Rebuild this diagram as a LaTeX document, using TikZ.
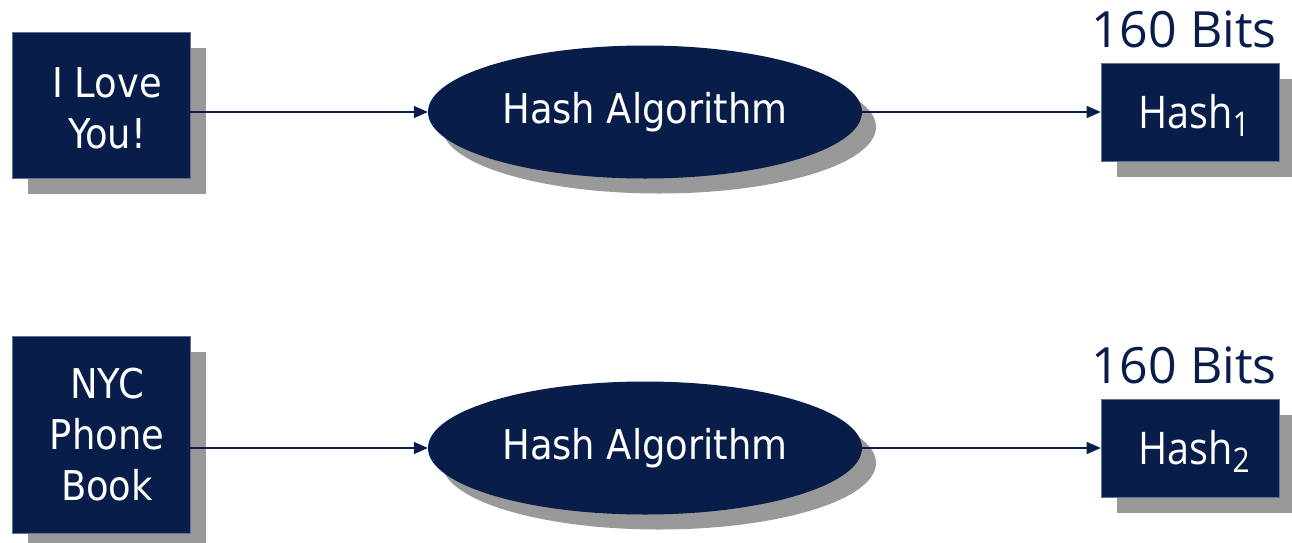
\documentclass[tikz,border=0pt]{standalone}
\usepackage{fontspec}
\setmainfont{DejaVu Sans Condensed}
\newfontfamily\segoe{Open Sans}
\newfontfamily\segoenarrow[FakeStretch=0.88]{Open Sans}
\usetikzlibrary{shapes.geometric,shadows,arrows.meta}
\definecolor{navy}{RGB}{8,29,74}
\definecolor{shade}{RGB}{153,153,153}
\definecolor{rim}{RGB}{96,112,150}
% move contents by a given amount while keeping their box size
\newcommand\nudge[3]{\hspace*{#1}\raisebox{#2}[\height][\depth]{#3}}
% a message set on centred lines
\newcommand\msglines[1]{\begin{tabular}{@{}c@{}}#1\end{tabular}}
% digest label with its large, low index
\newcommand\digestname[1]{Hash\raisebox{-8pt}{\fontsize{34}{40}\selectfont #1}}
\tikzset{
  shadowed/.style={drop shadow={shadow xshift=16pt,shadow yshift=-16pt,fill=shade,opacity=1}},
  msgbox/.style={rectangle,fill=navy,draw=rim,line width=0.6pt,shadowed,
    minimum width=178pt,text=white,inner sep=0pt,
    font=\fontsize{41}{51}\selectfont},
  algo/.style={ellipse,fill=navy,draw=none,minimum width=434pt,minimum height=133pt,
    drop shadow={shadow xshift=14pt,shadow yshift=-15pt,fill=shade,opacity=1},
    text=white,inner sep=0pt,font=\fontsize{41}{51}\selectfont},
  digest/.style={rectangle,fill=navy,draw=rim,line width=0.6pt,shadowed,
    minimum width=178pt,minimum height=98pt,text=white,inner sep=0pt,
    font=\segoenarrow\fontsize{45}{52}\selectfont},
  bits/.style={text=navy,inner sep=0pt,anchor=base,font=\segoe\fontsize{50}{60}\selectfont},
  conn/.style={draw=navy,line width=1.4pt,-{Triangle[length=14pt,width=12pt]}}
}
\begin{document}
\begin{tikzpicture}[x=1pt,y=-1pt]
  \useasboundingbox (0,0) rectangle (1292,542);
  % first message
  \node[msgbox,minimum height=146pt] (msgA) at (101,105) {\nudge{12pt}{-8pt}{\msglines{I Love\\You!}}};
  \node[algo] (algA) at (645,112) {Hash Algorithm};
  \node[digest] (hashA) at (1190,112) {\nudge{8pt}{-3pt}{\digestname{1}}};
  \node[bits] (bitsA) at (1184,47) {160 Bits};
  \draw[conn] (msgA.east |- algA.west) -- (algA.west);
  \draw[conn] (algA.east) -- (algA.east -| hashA.west);
  % second message
  \node[msgbox,minimum height=197pt] (msgB) at (101,434.5) {\nudge{12pt}{-5pt}{\msglines{NYC\\Phone\\Book}}};
  \node[algo] (algB) at (645,448) {Hash Algorithm};
  \node[digest] (hashB) at (1190,448) {\nudge{8pt}{-3pt}{\digestname{2}}};
  \node[bits] (bitsB) at (1184,383) {160 Bits};
  \draw[conn] (msgB.east |- algB.west) -- (algB.west);
  \draw[conn] (algB.east) -- (algB.east -| hashB.west);
\end{tikzpicture}
\end{document}
